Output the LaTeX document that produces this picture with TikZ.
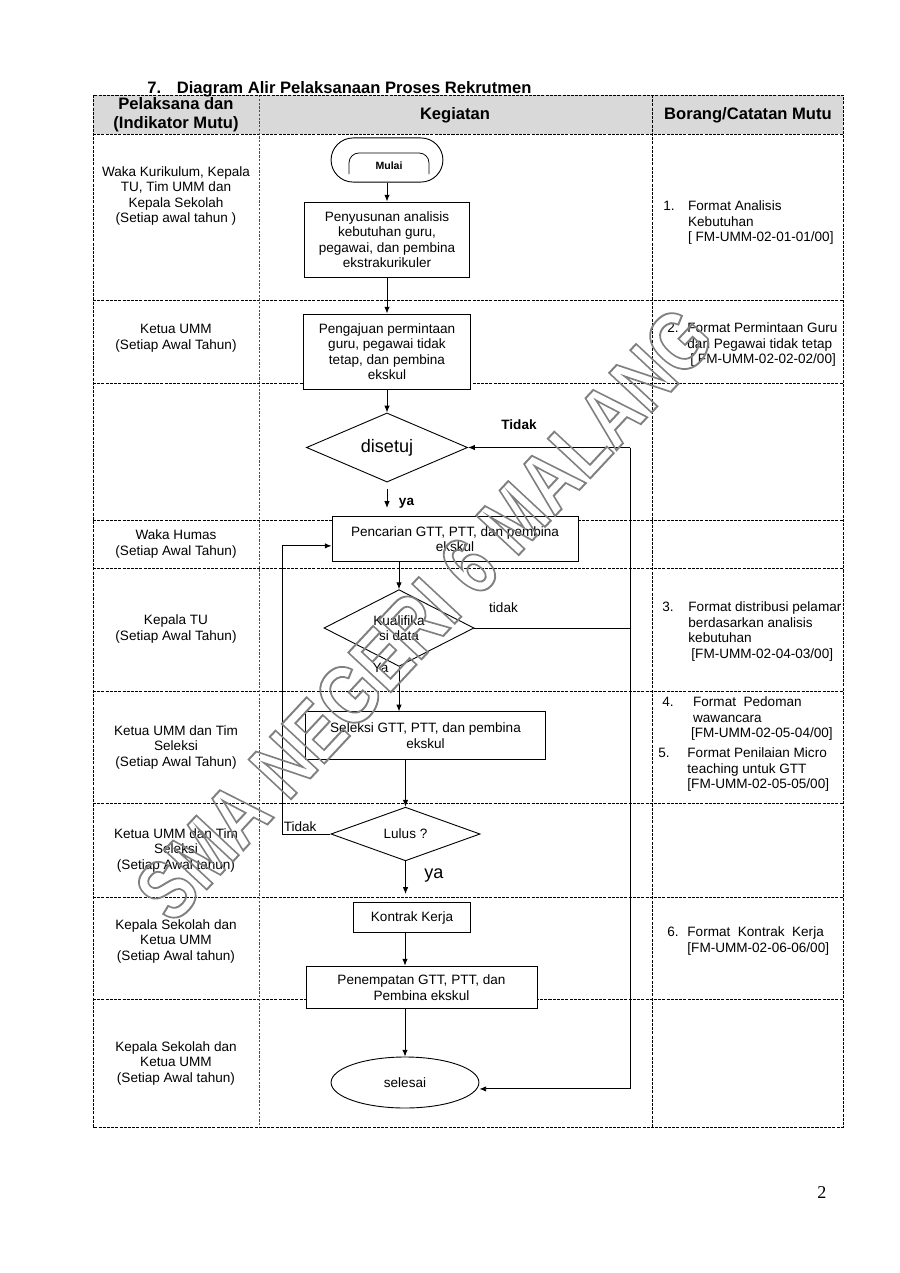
\documentclass[tikz,border=0pt]{standalone}
\usepackage{fontspec}
\setmainfont{Liberation Sans}
\newfontfamily\pagefont{Liberation Serif}
\usetikzlibrary{shapes.geometric,arrows.meta}

\definecolor{headgray}{HTML}{D9D9D9}
\newcommand{\boxfont}{\fontsize{9}{10.3}\selectfont}
\newcommand{\headfont}{\fontsize{11}{12.6}\selectfont\bfseries}

\tikzset{
	tabline/.style={line width=0.6pt, dash pattern=on 2pt off 0.8pt},
	tabthin/.style={line width=0.4pt, dash pattern=on 1.5pt off 1pt, black!70},
	proc/.style={draw, fill=white, line width=0.6pt, align=center, font=\boxfont, inner sep=1pt},
	decide/.style={diamond, draw, fill=white, line width=0.6pt, align=center, font=\boxfont, inner sep=0pt},
	who/.style={align=center, font=\boxfont},
	form/.style={anchor=base west, inner sep=0pt, font=\boxfont},
	flow/.style={->, line width=0.6pt},
	wm/.style={font=\fontsize{56}{56}\selectfont\bfseries, rotate=47, xscale=0.8, inner sep=0pt, text=black!50}
}

\begin{document}
\begin{tikzpicture}[x=0.23333mm, y=-0.23333mm, >={Latex[length=4.5pt,width=3.6pt]}]
	\useasboundingbox (0,0) rectangle (900,1273);

	% Table frame
	\fill[headgray] (93,95) rectangle (843,134);
	\foreach \y in {134,300,383,520,568,691,803,897,999}
		\draw[tabline] (93,\y) -- (843,\y);
	\draw[tabthin] (259,95) -- (259,1127);
	\draw[tabline] (652,95) -- (652,1127);
	\draw[tabline] (93,95) rectangle (843,1127);

	% Title and header
	\node[anchor=base west, inner sep=0pt, font=\headfont] (title) at (147,93) {7.\hspace{10.5pt}Diagram Alir Pelaksanaan Proses Rekrutmen};
	\node[align=center, font=\headfont] (h1) at (176,115) {Pelaksana dan\\(Indikator Mutu)};
	\node[font=\headfont] (h2) at (455,115) {Kegiatan};
	\node[font=\headfont] (h3) at (748,115) {Borang/Catatan Mutu};

	% Pelaksana column
	\node[who] (w1) at (176,196) {Waka Kurikulum, Kepala\\TU, Tim UMM dan\\Kepala Sekolah\\(Setiap awal tahun )};
	\node[who] (w2) at (176,338) {Ketua UMM\\(Setiap Awal Tahun)};
	\node[who] (w4) at (176,544) {Waka Humas\\(Setiap Awal Tahun)};
	\node[who] (w5) at (176,629) {Kepala TU\\(Setiap Awal Tahun)};
	\node[who] (w6) at (176,747) {Ketua UMM dan Tim\\Seleksi\\(Setiap Awal Tahun)};
	\node[who] (w7) at (176,850) {Ketua UMM dan Tim\\Seleksi\\(Setiap Awal tahun)};
	\node[who] (w8) at (176,941) {Kepala Sekolah dan\\Ketua UMM\\(Setiap Awal tahun)};
	\node[who] (w9) at (176,1063) {Kepala Sekolah dan\\Ketua UMM\\(Setiap Awal tahun)};

	% Kegiatan column
	\node[proc, rounded corners=5.15mm, minimum width=26.1mm, minimum height=10.3mm] (mulai) at (387,160) {};
	\draw[line width=0.5pt, rounded corners=2.3mm] (349,174) -- (349,153) -- (429,153) -- (429,174);
	\node[font=\fontsize{7}{8}\selectfont\bfseries] (mulaitext) at (389,166) {Mulai};
	\node[proc, minimum width=38.5mm, minimum height=17.5mm] (susun) at (387,239.5) {Penyusunan analisis\\kebutuhan guru,\\pegawai, dan pembina\\ekstrakurikuler};
	\node[proc, minimum width=39mm, minimum height=17.5mm] (aju) at (387,351.5) {Pengajuan permintaan\\guru, pegawai tidak\\tetap, dan pembina\\ekskul};
	\node[decide, minimum width=37.6mm, minimum height=13.3mm, font=\fontsize{12}{14}\selectfont] (setuju) at (387,447.5) {disetuj};
	\node[proc, minimum width=57.4mm, minimum height=10.3mm] (cari) at (455,539) {Pencarian GTT, PTT, dan pembina\\ekskul};
	\node[decide, minimum width=35mm, minimum height=17.7mm] (kualifikasi) at (399,628) {Kualifika\\si data};
	\node[proc, minimum width=55.8mm, minimum height=11mm] (seleksi) at (425.5,735.5) {Seleksi GTT, PTT, dan pembina\\ekskul};
	\node[decide, minimum width=34.8mm, minimum height=12.1mm] (lulus) at (405.5,834) {Lulus ?};
	\node[proc, minimum width=27.5mm, minimum height=6.8mm] (kontrak) at (412,917.5) {Kontrak Kerja};
	\node[proc, minimum width=53.9mm, minimum height=10mm] (penempatan) at (421.5,987.5) {Penempatan GTT, PTT, dan\\Pembina ekskul};
	\node[ellipse, draw, fill=white, line width=0.6pt, minimum width=34.5mm, minimum height=11.9mm, font=\boxfont] (selesai) at (405,1082.5) {selesai};

	% Connectors
	\coordinate (kanan) at (630,447.5);
	\coordinate (kiri) at (282,834);
	\coordinate (yatip) at (387,508);
	\coordinate (lulusya) at (405.5,894);
	\draw[flow] (mulai) -- (susun);
	\draw[flow] (susun) -- (aju);
	\draw[flow] (aju) -- (setuju);
	\draw[flow] ([yshift=-1.6mm]setuju.south) -- (yatip);
	\draw[flow] (kanan) -- (setuju.east);
	\draw[flow] (kanan) |- ([yshift=-1.5mm]selesai.east);
	\draw[line width=0.6pt] (kualifikasi.east) -- (kualifikasi.east -| kanan);
	\draw[flow] (kualifikasi.north |- cari.south) -- (kualifikasi.north);
	\draw[flow] (kualifikasi.south) -- (kualifikasi.south |- seleksi.north);
	\draw[flow] (lulus.north |- seleksi.south) -- (lulus.north);
	\draw[flow] (lulus.west) -- (kiri) |- ([yshift=-1.6mm]cari.west);
	\draw[flow] (lulus.south) -- (lulusya);
	\draw[flow] (selesai.north |- kontrak.south) -- (selesai.north |- penempatan.north);
	\draw[flow] (selesai.north |- penempatan.south) -- (selesai.north);

	% Connector labels
	\node[font=\boxfont\bfseries] (tidak1) at (519,425) {Tidak};
	\node[font=\boxfont\bfseries] (ya1) at (406.5,503) {ya};
	\node[font=\boxfont] (tidak2) at (503.5,608) {tidak};
	\node[font=\boxfont] (ya2) at (380.5,668) {Ya};
	\node[font=\boxfont, anchor=south west, inner sep=1pt] (tidak3) at (282,833) {Tidak};
	\node[font=\fontsize{12}{14}\selectfont] (ya3) at (434,876) {ya};

	% Borang column
	\node[form] (f1) at (663,210.5) {\begin{tabular}[t]{@{}p{5.8mm}@{}l@{}}1. & Format Analisis\\ & Kebutuhan\\ & [ FM-UMM-02-01-01/00]\end{tabular}};
	\node[form] (f2) at (667,332.5) {\begin{tabular}[t]{@{}p{4.7mm}@{}l@{}}2. & Format Permintaan Guru\\ & dan Pegawai tidak tetap\\ & \hspace{2pt}[ FM-UMM-02-02-02/00]\end{tabular}};
	\node[form] (f3) at (662,611.5) {\begin{tabular}[t]{@{}p{6.1mm}@{}l@{}}3. & Format distribusi pelamar\\ & berdasarkan analisis\\ & kebutuhan\\ & \hspace{2pt}[FM-UMM-02-04-03/00]\end{tabular}};
	\node[form] (f4) at (662,706.5) {\begin{tabular}[t]{@{}p{7.2mm}@{}l@{}}4. & Format\ \ Pedoman\\ & wawancara\\ & \hspace*{-1.4pt}[FM-UMM-02-05-04/00]\end{tabular}};
	\node[form] (f5) at (658,757.5) {\begin{tabular}[t]{@{}p{6.8mm}@{}l@{}}5. & Format Penilaian Micro\\ & teaching untuk GTT\\ & [FM-UMM-02-05-05/00]\end{tabular}};
	\node[form] (f6) at (667,936.5) {\begin{tabular}[t]{@{}p{4.7mm}@{}l@{}}6. & Format\ \ Kontrak\ \ Kerja\\ & [FM-UMM-02-06-06/00]\end{tabular}};

	% Page number
	\node[font=\pagefont\fontsize{12}{14}\selectfont] (halaman) at (822,1192) {2};

	% Watermark (outlined letters)
	\node[wm] (watermark) at (424,614) {\special{pdf:literal direct 1 Tr 1.3 w}SMA NEGERI 6 MALANG\special{pdf:literal direct 0 Tr}};

\end{tikzpicture}
\end{document}
